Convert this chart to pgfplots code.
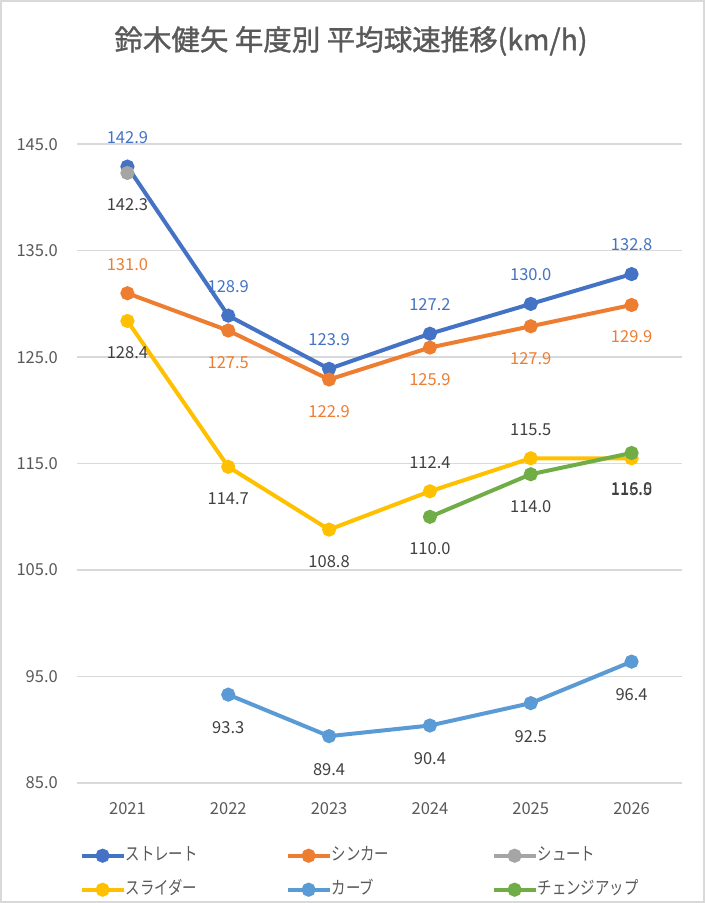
\documentclass[border=0pt]{standalone}
\usepackage{fontspec}
\setmainfont{Noto Sans CJK JP}
\newfontfamily\legfont[FakeStretch=0.8]{Noto Sans CJK JP}
\newfontfamily\titlefont[FakeBold=1.2]{Noto Sans CJK JP}
\usepackage{pgfplots}
\usepackage{pgfplotstable}
\pgfplotsset{compat=1.18}
\definecolor{cblue}{HTML}{4472C4}
\definecolor{corange}{HTML}{ED7D31}
\definecolor{cgray}{HTML}{A5A5A5}
\definecolor{cyellow}{HTML}{FFC000}
\definecolor{clblue}{HTML}{5B9BD5}
\definecolor{cgreen}{HTML}{70AD47}
\definecolor{cgrid}{HTML}{D9D9D9}
\definecolor{ctxt}{HTML}{595959}
\definecolor{clab}{HTML}{404040}

\pgfplotstableread{
x y p
0 142.9 29
1 128.9 29
2 123.9 29
3 127.2 29
4 130.0 29
5 132.8 29
}\straight
\pgfplotstableread{
x y p
0 131.0 29
1 127.5 -32
2 122.9 -32
3 125.9 -32
4 127.9 -32
5 129.9 -32
}\sinker
\pgfplotstableread{
x y p
0 142.3 -32
}\shoot
\pgfplotstableread{
x y p
0 128.4 -32
1 114.7 -32
2 108.8 -32
3 112.4 29
4 115.5 29
5 115.5 -31
}\slider
\pgfplotstableread{
x y p
1 93.3 -33
2 89.4 -33
3 90.4 -33
4 92.5 -33
5 96.4 -33
}\curve
\pgfplotstableread{
x y p
3 110.0 -32
4 114.0 -32
5 116.0 -36
}\change

\begin{document}
\begin{tikzpicture}
\useasboundingbox (0,0) rectangle (705bp,903bp);
\draw[cgrid, line width=2bp] (1bp,1bp) rectangle (704bp,902bp);
\node[font=\titlefont\fontsize{28.5bp}{33bp}\selectfont, text=ctxt] at (351bp,862bp) {鈴木健矢 年度別 平均球速推移(km/h)};
\begin{axis}[
  at={(77bp,120bp)}, anchor=south west,
  scale only axis, width=605bp, height=692bp,
  xmin=-0.5, xmax=5.5, ymin=85, ymax=150,
  clip=false,
  axis line style={draw=none},
  major tick style={draw=none},
  xtick={0,1,2,3,4,5},
  xticklabels={2021,2022,2023,2024,2025,2026},
  ytick={85,95,105,115,125,135,145},
  ymajorgrids,
  grid style={cgrid, line width=1.5bp},
  tick label style={font=\fontsize{16.5bp}{20bp}\selectfont, text=ctxt},
  xticklabel style={anchor=center, yshift=-26bp},
  yticklabel style={anchor=east, inner sep=0pt, xshift=-19bp,
    /pgf/number format/.cd, fixed, fixed zerofill, precision=1, assume math mode=true},
  every axis plot/.append style={line width=4bp, mark=*, mark size=5bp,
     mark options={solid}},
  point meta=explicit,
  visualization depends on={\thisrow{p} \as \lpos},
  nodes near coords={\pgfmathprintnumber[fixed,fixed zerofill,precision=1,assume math mode=true]{\pgfplotspointmeta}},
  every node near coord/.append style={anchor=center, inner sep=0pt,
     font=\fontsize{16.5bp}{20bp}\selectfont, yshift=\lpos bp},
  legend columns=3,
  legend cell align=left,
  legend image code/.code={\draw[mark repeat=2,mark phase=2,#1] plot coordinates {(0bp,0bp) (21bp,0bp) (42bp,0bp)};},
  legend style={at={(0.004,-0.0925)}, anchor=north west, draw=none, fill=none,
     inner sep=0pt, row sep=17bp,
     font=\legfont\fontsize{18bp}{21bp}\selectfont, text=ctxt,
     nodes={inner sep=0pt, text width=160bp, text height=13bp, text depth=4bp, anchor=west},
     /tikz/every odd column/.append style={column sep=0bp}},
]
\addplot[cblue, every node near coord/.append style={text=cblue}] table[x=x,y=y,meta=y] {\straight};
\addlegendentry{ストレート}
\addplot[corange, every node near coord/.append style={text=corange}] table[x=x,y=y,meta=y] {\sinker};
\addlegendentry{シンカー}
\addplot[cgray, every node near coord/.append style={text=clab}] table[x=x,y=y,meta=y] {\shoot};
\addlegendentry{シュート}
\addplot[cyellow, every node near coord/.append style={text=clab}] table[x=x,y=y,meta=y] {\slider};
\addlegendentry{スライダー}
\addplot[clblue, every node near coord/.append style={text=clab}] table[x=x,y=y,meta=y] {\curve};
\addlegendentry{カーブ}
\addplot[cgreen, every node near coord/.append style={text=clab}] table[x=x,y=y,meta=y] {\change};
\addlegendentry{チェンジアップ}
\end{axis}
\end{tikzpicture}
\end{document}
